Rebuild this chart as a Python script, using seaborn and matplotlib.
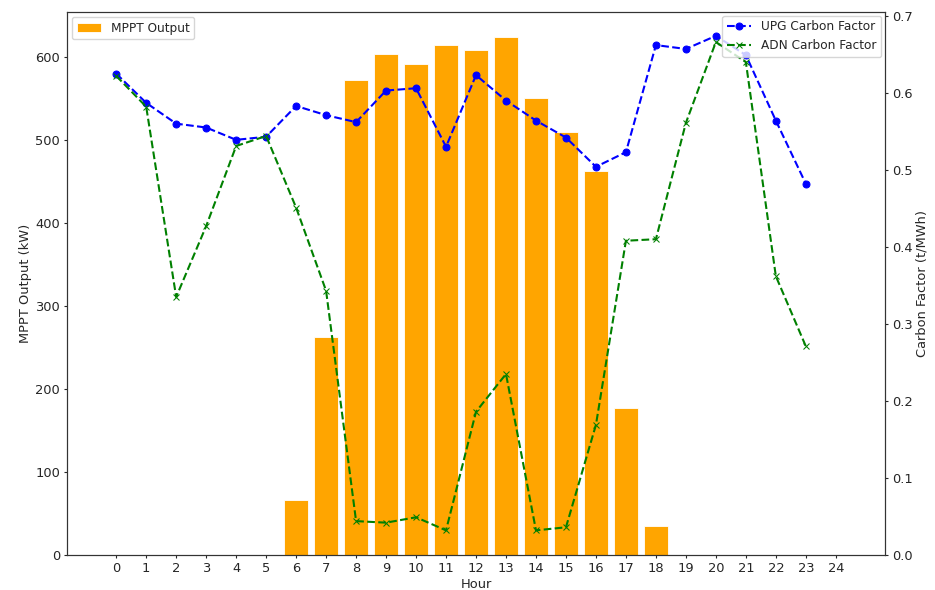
import matplotlib
matplotlib.use("Agg")
import matplotlib.pyplot as plt
import seaborn as sns
import pandas as pd

hours = list(range(25))
mppt_output = [0, 0, 0, 0, 0, 0, 66, 262, 572, 603, 591, 614, 608, 624,
               551, 510, 463, 177, 35, 0, 0, 0, 0, 0, 0]
line_hours = list(range(24))
upg_factor = [0.625, 0.587, 0.560, 0.555, 0.539, 0.543, 0.583, 0.571, 0.562,
              0.603, 0.606, 0.530, 0.623, 0.590, 0.564, 0.542, 0.504, 0.523,
              0.662, 0.657, 0.674, 0.649, 0.564, 0.482]
adn_factor = [0.622, 0.582, 0.335, 0.427, 0.531, 0.544, 0.451, 0.343, 0.044,
              0.042, 0.049, 0.032, 0.186, 0.235, 0.032, 0.036, 0.169, 0.408,
              0.410, 0.561, 0.666, 0.640, 0.362, 0.271]

sns.set_style("ticks")
plt.rcParams['font.family'] = ['DejaVu Sans']
plt.rcParams['font.size'] = 9.4
plt.rcParams['legend.fontsize'] = 8.7
plt.rcParams['xtick.major.size'] = 2.4
plt.rcParams['ytick.major.size'] = 2.4
plt.rcParams['xtick.major.pad'] = 2.4
plt.rcParams['ytick.major.pad'] = 2.6
plt.rcParams['axes.labelpad'] = 2.2

fig, ax = plt.subplots(figsize=(9.35, 5.9), dpi=100)
fig.subplots_adjust(left=0.0717, right=0.9465, top=0.9797, bottom=0.0593)

bars = pd.DataFrame({"Hour": hours, "MPPT": mppt_output})
sns.barplot(data=bars, x="Hour", y="MPPT", color="orange", saturation=1,
            width=0.8, edgecolor="white", linewidth=0.6, ax=ax, label="MPPT Output")
ax.set_xlim(-1.64, 25.64)
ax.set_ylim(0, 654)
ax.set_xlabel("Hour")
ax.set_ylabel("MPPT Output (kW)")
ax.legend(loc="upper left", borderaxespad=0.4)

ax2 = ax.twinx()
lines = pd.DataFrame({"Hour": line_hours, "UPG": upg_factor, "ADN": adn_factor})
sns.lineplot(data=lines, x="Hour", y="UPG", color="blue", marker="o", markersize=5,
             markeredgecolor="blue", linestyle="--", linewidth=1.5, ax=ax2,
             label="UPG Carbon Factor")
sns.lineplot(data=lines, x="Hour", y="ADN", color="green", marker="x", markersize=5,
             markeredgecolor="green", linestyle="--", linewidth=1.5, ax=ax2,
             label="ADN Carbon Factor")
ax2.set_ylim(0, 0.705)
ax2.set_ylabel("Carbon Factor (t/MWh)")
ax2.legend(loc="upper right", borderaxespad=0.3)
ax2.set_xlim(-1.64, 25.64)
ax.set_xticks(hours)
ax.set_xticklabels([str(h) for h in hours])

for a in (ax, ax2):
    for s in a.spines.values():
        s.set_visible(True)
        s.set_color("#333333")
        s.set_linewidth(0.8)

fig.savefig("out.png", dpi=100)
